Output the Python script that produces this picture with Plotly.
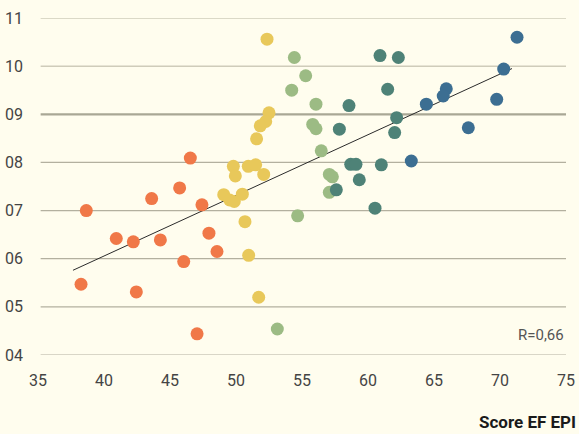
import plotly.graph_objects as go

# EF EPI score (x) vs indicator (y), grouped in four bands
orange_x = [46.54, 43.61, 45.73, 47.42, 38.66, 40.93, 42.22, 44.27, 47.95, 48.56, 46.04, 38.26, 42.45, 47.05]
orange_y = [8.09, 7.25, 7.47, 7.12, 7.00, 6.42, 6.35, 6.39, 6.53, 6.15, 5.94, 5.47, 5.31, 4.44]

yellow_x = [52.35, 52.50, 52.25, 51.84, 51.56, 49.80, 50.93, 51.49, 49.95, 52.10, 49.07, 50.48, 49.52, 49.87, 50.68, 50.96, 51.72]
yellow_y = [10.56, 9.03, 8.85, 8.76, 8.49, 7.92, 7.92, 7.95, 7.72, 7.75, 7.33, 7.34, 7.22, 7.19, 6.77, 6.07, 5.20]

green_x = [54.42, 55.28, 54.22, 56.06, 55.81, 56.06, 56.46, 57.07, 57.30, 57.07, 54.67, 53.13]
green_y = [10.18, 9.80, 9.50, 9.21, 8.79, 8.70, 8.24, 7.75, 7.70, 7.38, 6.89, 4.54]

teal_x = [60.91, 62.30, 61.49, 58.56, 62.17, 57.83, 62.02, 58.69, 59.09, 61.01, 59.34, 57.60, 60.53]
teal_y = [10.22, 10.18, 9.52, 9.18, 8.93, 8.69, 8.62, 7.96, 7.96, 7.95, 7.64, 7.43, 7.05]

blue_x = [71.29, 70.28, 65.93, 65.70, 64.42, 69.75, 67.60, 63.28]
blue_y = [10.60, 9.94, 9.53, 9.38, 9.21, 9.31, 8.72, 8.03]

trend_x = [37.65, 70.91]
trend_y = [5.76, 9.95]

x_ticks = [35, 40, 45, 50, 55, 60, 65, 70, 75]
y_ticks = [4, 5, 6, 7, 8, 9, 10, 11]
y_labels = ["04", "05", "06", "07", "08", "09", "10", "11"]

FONT = "Roboto"
BG = "#FFFDEE"

groups = [
    (orange_x, orange_y, "#F07848"),
    (yellow_x, yellow_y, "#E8C85A"),
    (green_x, green_y, "#9CBB84"),
    (teal_x, teal_y, "#4E8277"),
    (blue_x, blue_y, "#3C6E92"),
]

fig = go.Figure()

fig.add_trace(go.Scatter(
    x=trend_x, y=trend_y, mode="lines",
    line=dict(color="#2b2b2b", width=1), hoverinfo="skip", showlegend=False,
))

for gx, gy, col in groups:
    fig.add_trace(go.Scatter(
        x=gx, y=gy, mode="markers",
        marker=dict(size=13, color=col, line=dict(width=0)),
        showlegend=False,
    ))

# horizontal guide lines, the 09 line emphasised
grid_style = {4: ("#B3B09F", 1.2), 5: ("#B3B09F", 1.2), 6: ("#B3B09F", 1.2),
              7: ("#B3B09F", 1.2), 8: ("#B3B09F", 1.2), 9: ("#A9A795", 2.2),
              10: ("#CFCCBA", 1.5), 11: ("#CFCCBA", 1.5)}
for yv in y_ticks:
    col, w = grid_style[yv]
    fig.add_shape(type="line", xref="paper", x0=0.005, x1=1, yref="y", y0=yv, y1=yv,
                  line=dict(color=col, width=w), layer="below")

fig.add_annotation(x=1, xref="paper", y=4.42, yref="y", text="R=0,66",
                   showarrow=False, xanchor="right", yanchor="middle",
                   font=dict(family=FONT, size=15, color="#555555"))
fig.add_annotation(x=1.023, xref="paper", y=-0.2, yref="paper", text="<b>Score EF EPI</b>",
                   showarrow=False, xanchor="right", yanchor="middle",
                   font=dict(family=FONT, size=17, color="#1a1a1a"))

fig.update_layout(
    width=579, height=434,
    margin=dict(l=38, r=13, t=18, b=79, autoexpand=False),
    paper_bgcolor=BG, plot_bgcolor=BG,
    font=dict(family=FONT, color="#444444", size=15),
    xaxis=dict(range=[35, 75], tickvals=x_ticks, showgrid=False, zeroline=False,
               showline=False, ticks="", ticklabelstandoff=14, automargin=False,
               tickfont=dict(size=16, color="#444444")),
    yaxis=dict(range=[4, 11], tickvals=y_ticks, ticktext=y_labels, showgrid=False,
               zeroline=False, showline=False, ticks="", ticklabelstandoff=14,
               automargin=False, tickfont=dict(size=16, color="#444444")),
)

fig.write_html("out.html")
